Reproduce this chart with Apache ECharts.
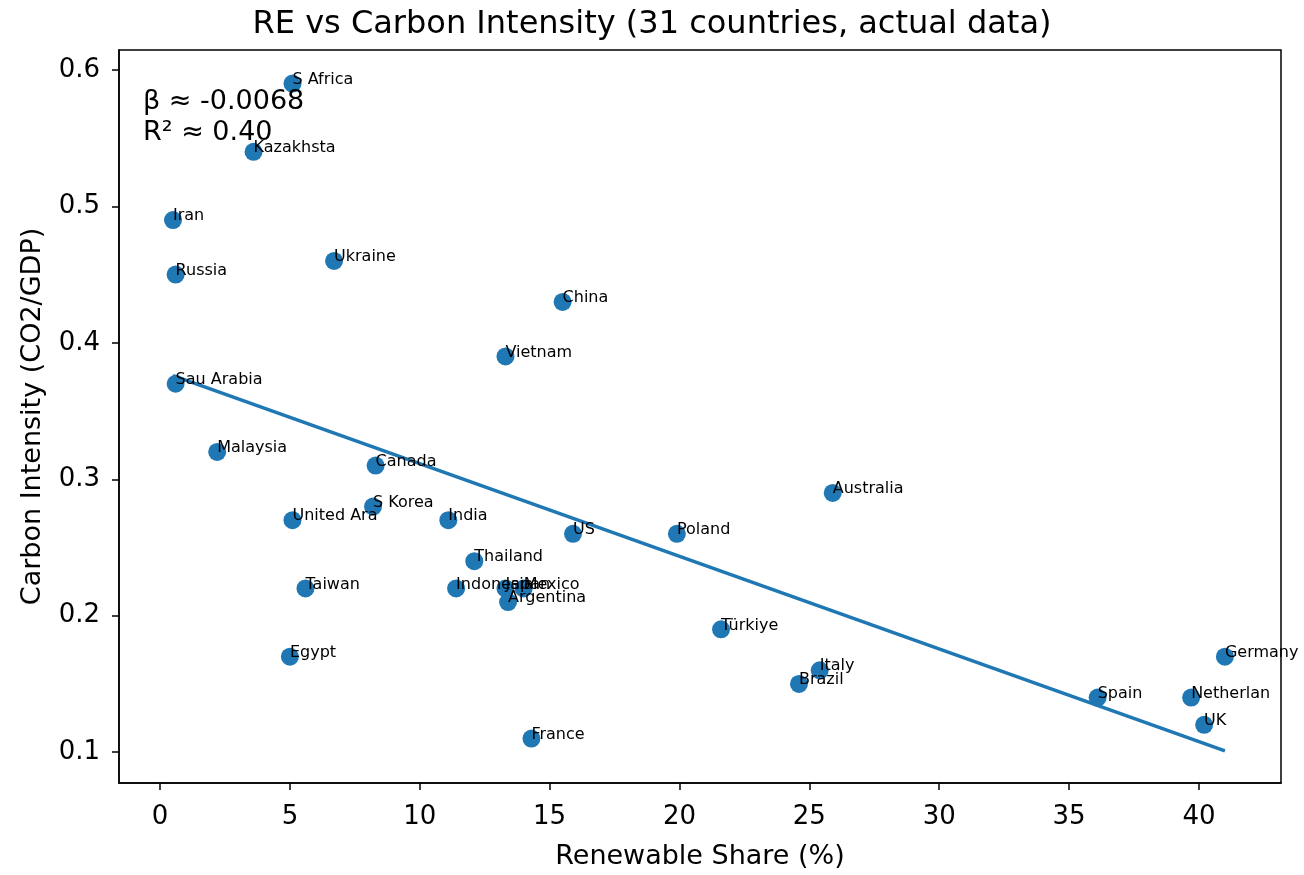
<!DOCTYPE html>
<html>
<head>
<meta charset="utf-8">
<title>RE vs Carbon Intensity</title>
<script src="https://cdn.jsdelivr.net/npm/echarts@6/dist/echarts.min.js"></script>
<style>
  html, body { margin: 0; padding: 0; background: #fff; }
  #chart { width: 1304px; height: 875px; }
</style>
</head>
<body>
<div id="chart"></div>
<script>
// data
var countries = ['S Africa', 'Kazakhsta', 'Iran', 'Russia', 'Ukraine', 'China', 'Vietnam', 'Sau Arabia',
    'Malaysia', 'Canada', 'S Korea', 'United Ara', 'India', 'US', 'Poland', 'Australia', 'Thailand',
    'Taiwan', 'Indonesia', 'Japan', 'Mexico', 'Argentina', 'Türkiye', 'Egypt', 'Italy', 'Brazil',
    'France', 'Spain', 'Netherlan', 'UK', 'Germany'];
var reShare = [5.1, 3.6, 0.5, 0.6, 6.7, 15.5, 13.3, 0.6,
    2.2, 8.3, 8.2, 5.1, 11.1, 15.9, 19.9, 25.9, 12.1,
    5.6, 11.4, 13.3, 14.0, 13.4, 21.6, 5.0, 25.4, 24.6,
    14.3, 36.1, 39.7, 40.2, 41.0];
var carbonInt = [0.59, 0.54, 0.49, 0.45, 0.46, 0.43, 0.39, 0.37,
    0.32, 0.31, 0.28, 0.27, 0.27, 0.26, 0.26, 0.29, 0.24,
    0.22, 0.22, 0.22, 0.22, 0.21, 0.19, 0.17, 0.16, 0.15,
    0.11, 0.14, 0.14, 0.12, 0.17];
// fitted line endpoints (as drawn)
var fitX = [0.5, 41.0];
var fitY = [0.376, 0.101];
var xTicks = [0, 5, 10, 15, 20, 25, 30, 35, 40];
var yTicks = [0.1, 0.2, 0.3, 0.4, 0.5, 0.6];

var font = 'DejaVu Sans';
var blue = '#1f77b4';

var points = [];
for (var i = 0; i < countries.length; i++) {
    points.push({ name: countries[i], value: [reShare[i], carbonInt[i]] });
}
var fitLine = [];
for (var j = 0; j < fitX.length; j++) {
    fitLine.push([fitX[j], fitY[j]]);
}

var chart = echarts.init(document.getElementById('chart'));
var option = {
    animation: false,
    textStyle: { fontFamily: font },
    title: {
        text: 'RE vs Carbon Intensity (31 countries, actual data)',
        left: 'center',
        top: 4,
        textStyle: { fontFamily: font, fontSize: 32, fontWeight: 'normal', color: '#000' }
    },
    grid: {
        left: 119, right: 23, top: 50, bottom: 87,
        show: true, borderColor: '#000', borderWidth: 1.5, backgroundColor: 'transparent'
    },
    graphic: [{
        type: 'text',
        left: 143,
        top: 86,
        style: {
            text: 'β ≈ -0.0068\nR² ≈ 0.40',
            font: '27px "DejaVu Sans"',
            lineHeight: 31,
            fill: '#000'
        },
        z: 100
    }],
    xAxis: {
        type: 'value',
        min: -1.58,
        max: 43.16,
        name: 'Renewable Share (%)',
        nameLocation: 'middle',
        nameGap: 60,
        nameTextStyle: { fontFamily: font, fontSize: 27, color: '#000' },
        axisLine: { show: true, onZero: false, lineStyle: { color: '#000', width: 1.5 } },
        axisTick: { show: true, customValues: xTicks, length: 7, lineStyle: { color: '#000', width: 1.5 } },
        axisLabel: {
            customValues: xTicks, margin: 21,
            fontFamily: font, fontSize: 26, color: '#000'
        },
        splitLine: { show: false }
    },
    yAxis: {
        type: 'value',
        min: 0.0774,
        max: 0.6146,
        name: 'Carbon Intensity (CO2/GDP)',
        nameLocation: 'middle',
        nameGap: 73,
        nameRotate: 90,
        nameTextStyle: { fontFamily: font, fontSize: 27, color: '#000' },
        axisLine: { show: true, onZero: false, lineStyle: { color: '#000', width: 1.5 } },
        axisTick: { show: true, customValues: yTicks, length: 7, lineStyle: { color: '#000', width: 1.5 } },
        axisLabel: {
            customValues: yTicks, margin: 19,
            fontFamily: font, fontSize: 26, color: '#000',
            formatter: function (v) { return v.toFixed(1); }
        },
        splitLine: { show: false }
    },
    series: [
        {
            type: 'scatter',
            data: points,
            symbolSize: 18,
            itemStyle: { color: blue, opacity: 1 },
            label: {
                show: true,
                position: [9, 13],
                align: 'left',
                verticalAlign: 'bottom',
                formatter: '{b}',
                fontFamily: font,
                fontSize: 16,
                color: '#000'
            },
            labelLayout: { hideOverlap: false },
            z: 3
        },
        {
            type: 'line',
            data: fitLine,
            symbol: 'none',
            lineStyle: { color: blue, width: 3.5 },
            z: 2
        }
    ]
};
chart.setOption(option);
</script>
</body>
</html>
